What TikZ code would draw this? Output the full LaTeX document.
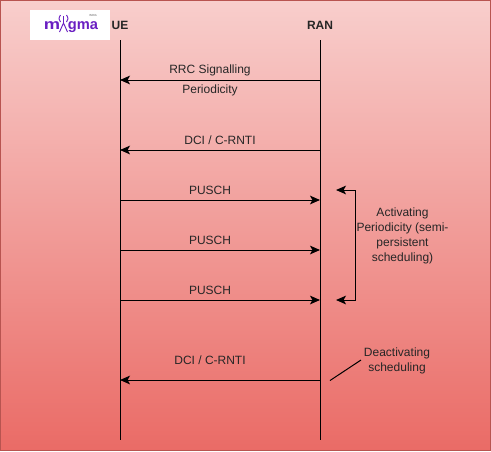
\documentclass[tikz,border=0pt]{standalone}
\usepackage{fontspec}
\setmainfont{Liberation Sans}
\usetikzlibrary{arrows.meta}
\definecolor{bgtop}{HTML}{F8CECC}
\definecolor{bgbot}{HTML}{EA6B66}
\definecolor{bgline}{HTML}{B85450}
\definecolor{logop}{HTML}{6A1FC2}
\tikzset{
  x=0.75pt,y=-0.75pt,
  life/.style={draw=black,line width=0.75pt},
  msg/.style={draw=black,line width=0.75pt,-{Stealth[length=7.5pt,width=6.5pt,inset=1.8pt]}},
  lbl/.style={font=\fontsize{9}{11.25}\selectfont,text=black!85,align=center,inner sep=0pt},
  head/.style={font=\fontsize{9}{11}\selectfont\bfseries,text=black!85,inner sep=0pt},
  logofont/.style={font=\fontsize{11}{12}\selectfont\bfseries,text=logop,inner sep=0pt,anchor=base},
}
\begin{document}
\begin{tikzpicture}
\useasboundingbox (0,0) rectangle (491,451);
\shade[top color=bgtop,bottom color=bgbot,draw=bgline,line width=0.75pt] (0.5,0.5) rectangle (490.5,450.5);
% logo
\node[fill=white,minimum width=60pt,minimum height=22.5pt,inner sep=0pt] (logo) at (70,25) {};
\node[logofont,xscale=1.25] (logom) at (52,29) {m};
\node[logofont] (logog) at (83,29) {gma};
\node[font=\fontsize{2.2}{2.6}\selectfont,text=black!60,inner sep=0pt] (logotag) at (93,15.5) {INDIA};
\draw[logop,line width=0.7pt] (60.5,15) .. controls (58.5,18) and (58.5,20) .. (60.5,22)
  (66.5,15) .. controls (68.5,18) and (68.5,20) .. (66.5,22)
  (63.5,16) -- (63.5,23) -- (59.5,32) (63.5,23) -- (67.5,32);
% headers
\node[head] (ue) at (120,25) {UE};
\node[head] (ran) at (320,25) {RAN};
\coordinate (ueTop) at (120,40);
\coordinate (ueBot) at (120,440);
\coordinate (ranTop) at (320,40);
\coordinate (ranBot) at (320,440);
\draw[life] (ueTop) -- (ueBot);
\draw[life] (ranTop) -- (ranBot);
% messages
\foreach \n/\y in {a/80,b/150,f/380}{
  \coordinate (r\n) at (320,\y); \coordinate (u\n) at (120,\y);
  \draw[msg] (r\n) -- (u\n);
}
\foreach \n/\y in {c/200,d/250,e/300}{
  \coordinate (r\n) at (320,\y); \coordinate (u\n) at (120,\y);
  \draw[msg] (u\n) -- (r\n);
}
\node[lbl] (t1) at (210,70) {RRC Signalling};
\node[lbl] (t2) at (210,90) {Periodicity};
\node[lbl] (t3) at (220,140) {DCI / C-RNTI};
\node[lbl] (t4) at (210,190) {PUSCH};
\node[lbl] (t5) at (210,240) {PUSCH};
\node[lbl] (t6) at (210,290) {PUSCH};
\node[lbl] (t7) at (210,360) {DCI / C-RNTI};
% bracket
\coordinate (b1) at (336,190);
\coordinate (b2) at (355.5,190);
\coordinate (b3) at (355.5,300);
\coordinate (b4) at (336,300);
\draw[draw=black,line width=0.75pt,{Stealth[length=7.5pt,width=6.5pt,inset=1.8pt]}-{Stealth[length=7.5pt,width=6.5pt,inset=1.8pt]}] (b1) -- (b2) -- (b3) -- (b4);
\node[lbl] (t8) at (402.5,236) {Activating\\Periodicity (semi-\\persistent\\scheduling)};
\node[lbl] (t9) at (397,361) {Deactivating\\scheduling};
\coordinate (s1) at (330,380.5);
\coordinate (s2) at (361,360);
\draw[draw=black,line width=0.75pt] (s1) -- (s2);
\end{tikzpicture}
\end{document}
